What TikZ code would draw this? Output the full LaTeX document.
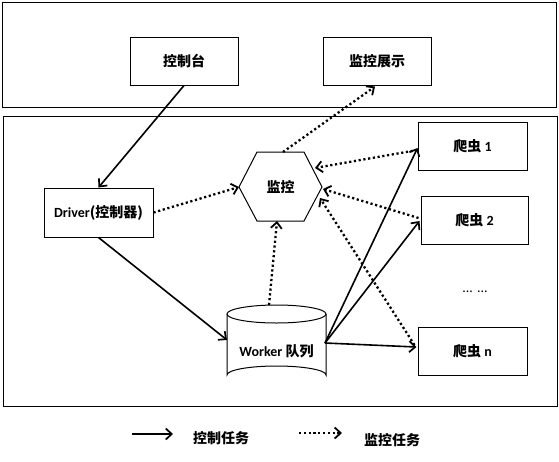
\documentclass[tikz,border=0pt]{standalone}
\usepackage{fontspec}
\setmainfont{Carlito}
\newfontfamily\cjk{Noto Sans CJK SC}
\usetikzlibrary{arrows.meta,calc}
\tikzset{
  frame/.style={draw, line width=1pt},
  box/.style={draw, line width=1pt, inner sep=0pt, font=\bfseries\fontsize{14}{16}\selectfont},
  lbl/.style={inner sep=0pt, font=\bfseries\fontsize{14}{16}\selectfont},
  ctrl/.style={line width=1.6pt, -{Straight Barb[length=6pt,width=11pt,line width=1.7pt]}},
  mon/.style={line width=2.3pt, dash pattern=on 2.2pt off 2.6pt, -{Straight Barb[length=6pt,width=11pt,line width=1.8pt]}},
  shapeline/.style={draw, line width=1pt}
}
\begin{document}
\begin{tikzpicture}[x=1pt,y=-1pt]
\useasboundingbox (0,0) rectangle (559,461);
% frames
\draw[frame] (2,2) rectangle (556,107);
\draw[frame] (3,116) rectangle (557,406);
% top boxes
\node[box, minimum width=108pt, minimum height=48pt] (kzt) at (184,61) {\cjk 控制台};
\node[box, minimum width=108pt, minimum height=48pt] (jkzs) at (377,61) {\cjk 监控展示};
% driver
\node[box, minimum width=109pt, minimum height=49pt] (drv) at (98.5,212.5) {Driver{\cjk (控制器)}};
% hexagon
\draw[shapeline] (239,187) -- (257,152) -- (304,152) -- (322,187) -- (304,221) -- (257,221) -- cycle;
\node[lbl] (hex) at (280.5,187) {\cjk 监控};
\coordinate (hexL) at (239,187);
\coordinate (hexT) at (283,152);
\coordinate (hexB) at (277,221);
\coordinate (hexR1) at (315,168);
\coordinate (hexR2) at (323,189);
\coordinate (hexR3) at (320,198);
% cylinder
\draw[shapeline, fill=white] (227,314) -- (227,375) arc[start angle=180, end angle=360, x radius=49.5, y radius=9] -- (326,314);
\draw[shapeline] (276.5,314) ellipse[x radius=49.5, y radius=9];
\node[lbl] (wq) at (276.5,351) {Worker {\cjk 队列}};
\coordinate (cylT) at (269,305);
\coordinate (cylL) at (227,340);
\coordinate (cylR) at (325,343);
% crawlers
\node[box, minimum width=109pt, minimum height=48pt] (c1) at (472.5,146) {{\cjk 爬虫} 1};
\node[box, minimum width=107pt, minimum height=48pt] (c2) at (474.5,220) {{\cjk 爬虫} 2};
\node[box, minimum width=109pt, minimum height=48pt] (cn) at (472.5,351) {{\cjk 爬虫} n};
\node[lbl, font=\fontsize{14}{16}\selectfont] (dots) at (475,292) {... ...};
% control arrows
\draw[ctrl] (kzt.south) -- (drv.north);
\draw[ctrl] (drv.south) -- (cylL);
\draw[ctrl] (cylR) -- ($(c1.west)+(0,2)$);
\draw[ctrl] (cylR) -- ($(c2.west)+(-1,1)$);
\draw[ctrl] (cylR) -- ($(cn.west)+(-1,-4)$);
% monitoring arrows
\draw[mon] (drv.east) -- (hexL);
\draw[mon] (cylT) -- (hexB);
\draw[mon] (hexT) -- ($(jkzs.south)+(-2,1)$);
\draw[mon] ($(c1.west)+(0,4)$) -- (hexR1);
\draw[mon] ($(c2.west)+(-2,-2)$) -- (hexR2);
\draw[mon] ($(cn.west)+(-3,-6)$) -- (hexR3);
% legend
\coordinate (la1) at (132,434);
\coordinate (la2) at (173,434);
\coordinate (lb1) at (299,433);
\coordinate (lb2) at (342,433);
\draw[ctrl] (la1) -- (la2);
\draw[mon] (lb1) -- (lb2);
\node[lbl] (lt1) at (221,438) {\cjk 控制任务};
\node[lbl] (lt2) at (392,440) {\cjk 监控任务};
\end{tikzpicture}
\end{document}
